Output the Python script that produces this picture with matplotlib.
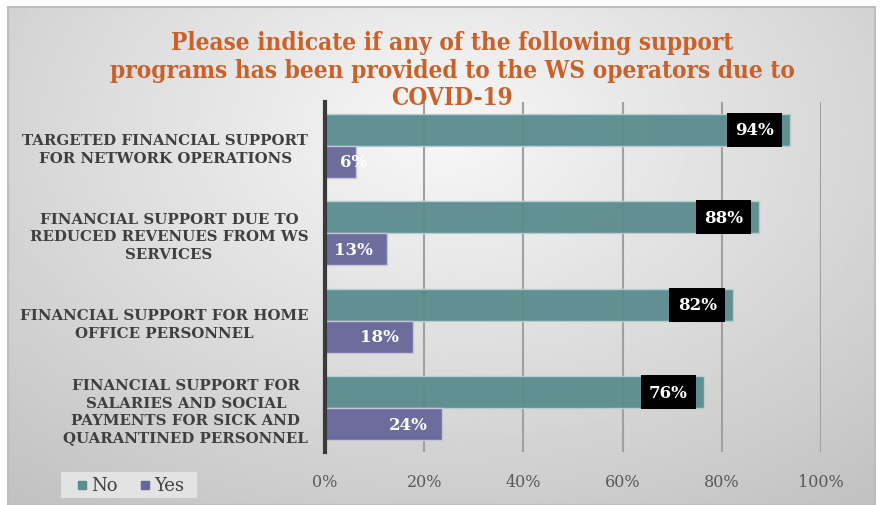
import matplotlib.pyplot as plt
import numpy as np
from matplotlib.patches import Rectangle

categories = [
    "TARGETED FINANCIAL SUPPORT\nFOR NETWORK OPERATIONS",
    "FINANCIAL SUPPORT DUE TO\nREDUCED REVENUES FROM WS\nSERVICES",
    "FINANCIAL SUPPORT FOR HOME\nOFFICE PERSONNEL",
    "FINANCIAL SUPPORT FOR\nSALARIES AND SOCIAL\nPAYMENTS FOR SICK AND\nQUARANTINED PERSONNEL",
]
no_vals = [0.937, 0.875, 0.822, 0.764]
yes_vals = [0.063, 0.125, 0.178, 0.236]
xticks = [0, 0.2, 0.4, 0.6, 0.8, 1.0]
xticklabels = ["0%", "20%", "40%", "60%", "80%", "100%"]

teal = "#5b8c8e"
purple = "#67679a"
serif = "DejaVu Serif"

fig = plt.figure(figsize=(8.83, 5.06), dpi=100)
fig.patch.set_facecolor("white")

# slide background with soft radial gradient
bg = fig.add_axes([8 / 883, 0, 867 / 883, 1 - 8 / 506])
yy, xx = np.mgrid[0:1:200j, 0:1:350j]
r = np.sqrt(((xx - 0.5) / 0.75) ** 2 + ((yy - 0.25) / 0.9) ** 2)
bg.imshow(0.97 - 0.2 * r, cmap="gray", vmin=0, vmax=1, aspect="auto",
          extent=[0, 1, 1, 0])
bg.set_xlim(0, 1)
bg.set_ylim(1, 0)
bg.axis("off")
fig.add_artist(Rectangle((8 / 883, 0), 867 / 883, 1 - 8 / 506,
                         transform=fig.transFigure, fill=False,
                         edgecolor="#bdbdbd", lw=1.5))

ax = fig.add_axes([325 / 883, 1 - 453 / 506, 496 / 883, 350 / 506])
ax.patch.set_alpha(0)

y = np.arange(len(categories))
h = 0.364
ax.barh(y - h / 2, no_vals, height=h, color=teal, edgecolor="#b5d0d0",
        lw=1, alpha=0.95, zorder=2)
ax.barh(y + h / 2, yes_vals, height=h, color=purple, edgecolor="#c8c8dc",
        lw=1, alpha=0.95, zorder=2)

def pct(v):
    return f"{int(v * 100 + 0.5)}%"

for i, v in enumerate(no_vals):
    ax.annotate(pct(v), (v, i - h / 2), xytext=(-16, 0), textcoords="offset pixels",
                ha="right", va="center", color="white", fontsize=12,
                fontweight="bold", family=serif, zorder=4,
                bbox=dict(boxstyle="square,pad=0.5", fc="black", ec="none"))
for i, v in enumerate(yes_vals):
    if v < 0.1:
        ax.annotate(pct(v), (0, i + h / 2), xytext=(15, 0), textcoords="offset pixels",
                    ha="left", va="center", color="white", fontsize=12,
                    fontweight="bold", family=serif, zorder=4)
    else:
        ax.annotate(pct(v), (v, i + h / 2), xytext=(-14, 0), textcoords="offset pixels",
                    ha="right", va="center", color="white", fontsize=12,
                    fontweight="bold", family=serif, zorder=4)

ax.set_xlim(0, 1)
ax.set_ylim(len(categories) - 0.5, -0.5)
ax.set_xticks(xticks)
ax.set_xticklabels(xticklabels, family=serif, fontsize=11.5, color="#595959")
ax.set_yticks(y)
ax.set_yticklabels(categories, family=serif, fontsize=10.8, fontweight="bold",
                   color="#3f3f3f", multialignment="center", linespacing=1.3)
ax.tick_params(length=0, axis="both")
ax.tick_params(axis="x", pad=15)
ax.tick_params(axis="y", pad=12)
ax.grid(axis="x", color="#a0a0a0", lw=1.5, zorder=1)
ax.set_axisbelow(True)
for s in ["top", "right", "bottom"]:
    ax.spines[s].set_visible(False)
ax.spines["left"].set_color("#3a3a3a")
ax.spines["left"].set_linewidth(3)
ax.spines["left"].set_zorder(5)

fig.text(0.512, 0.939, "Please indicate if any of the following support\n"
         "programs has been provided to the WS operators due to\nCOVID-19",
         ha="center", va="top", color="#c8612a", fontsize=17.5, fontweight="bold",
         family=serif, fontstretch="condensed", linespacing=1.2)

# legend
fig.add_artist(Rectangle((61 / 883, 1 - 499 / 506), 136 / 883, 26 / 506,
                         transform=fig.transFigure, fc="#e3e3e3", ec="none"))
h1 = ax.scatter([], [], marker="s", s=35, color=teal)
h2 = ax.scatter([], [], marker="s", s=35, color=purple)
fig.legend([h1, h2], ["No", "Yes"], loc="center", bbox_to_anchor=(130 / 883, 1 - 486 / 506),
           ncol=2, frameon=False, prop={"family": serif, "size": 13},
           labelcolor="#404040", handlelength=0.7, handletextpad=0.15,
           columnspacing=1.2)

fig.savefig("out.png", dpi=100)
